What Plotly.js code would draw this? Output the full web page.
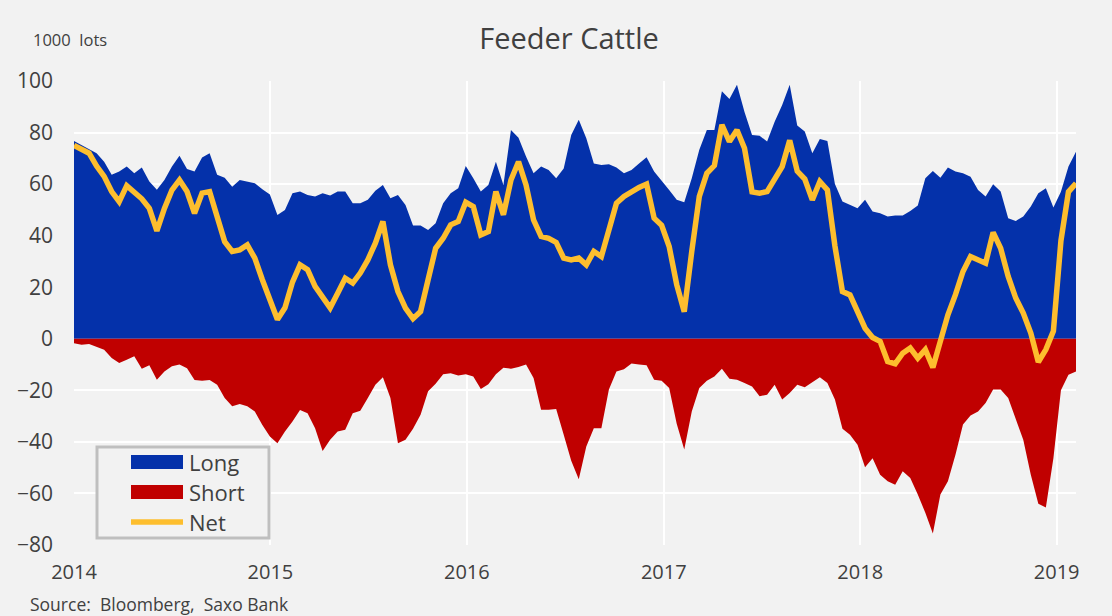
<!DOCTYPE html>
<html>
<head>
<meta charset="utf-8">
<script src="https://cdn.plot.ly/plotly-3.0.1.min.js"></script>
<style>
html,body{margin:0;padding:0;background:#f2f2f2;}
#chart{width:1112px;height:616px;}
</style>
</head>
<body>
<div id="chart"></div>
<script>
// Biweekly observations, first on 2014-01-01 (thousand lots)
var startDate = '2014-01-01';
var stepDays = 14;

var longPos = [76.7,75.2,73.6,72,68.7,63.6,64.9,66.8,64.2,66.4,61,57.8,61.6,66.8,71,65.9,64.9,70.3,72,63.6,62.5,59,61.6,61,60.3,58,
56,48,50,56.5,57.1,55.8,55.2,56.5,55.6,57.1,57.1,52.6,52.6,53.9,57.4,59.7,54.5,55.8,51.9,43.9,43.9,42.2,44.8,52.6,56.5,58.4,
67,62.3,57.1,59.7,68.7,59.7,81,78,70.7,64.2,66.8,65.5,62.3,66.1,79.1,85,77.8,68,67.4,67.7,66.4,64.2,65.5,68,70.4,64.9,
61.5,57.7,53.9,53,62.3,73.3,81,81,96,93,98.5,88,79.1,78.8,76.5,84.2,90.7,98.5,82.7,80.4,72,77.5,76.7,60,53.3,51.9,
50.6,53.9,49.4,48.7,47.4,47.8,47.8,49.6,51.7,62.3,65.1,62.5,66.4,64.9,64.2,62.9,57.7,55.2,59.9,57.1,46.8,45.7,47.4,51.3,56.5,58.4,50.9,57,66.8,72.6];

var shortPos = [-1.7,-2.3,-2,-3,-4.3,-7.5,-9.4,-8.1,-6.8,-11.6,-10.3,-15.9,-12.7,-10.7,-10,-11.4,-16,-16.3,-16,-17.8,-23,-26.2,-25.3,-26.2,-28.2,-33.4,
-37.9,-40.5,-36,-32.1,-27.6,-28.9,-34.7,-43.5,-39.2,-36,-35.3,-28.9,-27.9,-23,-17.8,-14.9,-23,-40.5,-39.2,-34.9,-29.5,-20.4,-17.4,-13.8,-13.4,-14.2,
-13.8,-14.6,-19.5,-17.6,-13.8,-11.2,-11.6,-10.9,-10,-15.2,-27.5,-27.5,-27.2,-37.2,-47.3,-54.5,-41.8,-34.7,-34.7,-19.7,-12.7,-11.8,-9.6,-10,-10.3,-15.9,
-16.3,-19.1,-33,-43,-28.2,-19.1,-16.3,-14.6,-11.6,-15.5,-15.9,-17.2,-18.5,-22.3,-21.7,-17.8,-23.6,-21,-17.8,-18.8,-16.8,-14.9,-17.2,-23.6,-34.9,-37.2,
-41.1,-49.8,-46.3,-52.7,-55.3,-56.6,-51.4,-54,-60.4,-67.5,-75.5,-60.4,-55.3,-45,-33.3,-29.8,-28.2,-24.9,-19.7,-19.7,-23,-30.7,-39.2,-52.7,-64,-65.5,-46.3,-20,-14,-12.7];

var netPos = [75,73.3,72,67,63,57.1,53.2,59.4,56.5,54.3,50.6,41.9,50.6,57.7,61.6,57.1,48.7,56.5,57.1,46.8,37.7,33.9,34.5,36.4,31.3,22.9,
15,7.5,12,22,28.7,26.8,20.3,16.2,12,17.7,23.5,21.6,25.5,30.6,37.1,45.5,28.7,18.3,11.9,7.8,10.6,22.9,35.1,39,44.2,45.5,
53,51.3,40.3,41.6,57.1,48.1,61.6,68.7,59.7,46.1,39.7,39,37.4,31.3,30.6,31.3,28.7,33.9,31.9,42.2,52.6,55.2,57.1,58.7,60,46.8,
44,35.8,21,10.5,33.9,55.2,64.2,67.2,83,76.5,81,73.9,57,56.5,57.1,62.3,66.8,77,65,62,53.9,61,57.7,36,18.3,17,
10,4.1,0.5,-1,-8.8,-9.7,-5.6,-3.6,-7.5,-4.2,-11.1,-1,9.3,17.1,26.1,31.9,30.6,29.3,41.3,35.1,24.2,15.8,10,2.2,-9,-4.2,3,38,57,60.3];

var yearTicks = ['2014-01-01','2015-01-01','2016-01-01','2017-01-01','2018-01-01','2019-01-01'];
var yearLabels = ['2014','2015','2016','2017','2018','2019'];
var seriesNames = ['Long','Short','Net'];

var dates = [];
(function(){
  var t0 = Date.parse(startDate + 'T00:00:00Z');
  for (var i = 0; i < longPos.length; i++) {
    dates.push(new Date(t0 + i*stepDays*86400000).toISOString().slice(0,10));
  }
})();

var BLUE = '#0431aa', RED = '#c00000', YEL = '#fdbe2e', TXT = '#404040', FONT = 'Open Sans, Noto Sans, sans-serif';

var traces = [
  {x: dates, y: longPos, type: 'scatter', mode: 'lines', fill: 'tozeroy', fillcolor: BLUE,
   line: {width: 0, color: BLUE}, name: seriesNames[0], showlegend: false},
  {x: dates, y: shortPos, type: 'scatter', mode: 'lines', fill: 'tozeroy', fillcolor: RED,
   line: {width: 0, color: RED}, name: seriesNames[1], showlegend: false},
  {x: dates, y: netPos, type: 'scatter', mode: 'lines',
   line: {width: 5.5, color: YEL}, name: seriesNames[2], showlegend: false}
];

// plot area in pixels: x 74..1076, y 81..545
var L = 74, R = 1076, T = 81, B = 545;
function px(x){ return (x - L) / (R - L); }
function py(y){ return (B - y) / (B - T); }

var shapes = [
  {type: 'rect', xref: 'paper', yref: 'paper', x0: px(97), x1: px(269), y0: py(538), y1: py(447),
   line: {color: '#bfbfbf', width: 3}, fillcolor: '#f2f2f2', layer: 'above'},
  {type: 'rect', xref: 'paper', yref: 'paper', x0: px(131), x1: px(183), y0: py(469), y1: py(455),
   line: {width: 0}, fillcolor: BLUE, layer: 'above'},
  {type: 'rect', xref: 'paper', yref: 'paper', x0: px(131), x1: px(183), y0: py(499), y1: py(485),
   line: {width: 0}, fillcolor: RED, layer: 'above'},
  {type: 'line', xref: 'paper', yref: 'paper', x0: px(131), x1: px(183), y0: py(522), y1: py(522),
   line: {color: YEL, width: 5.5}, layer: 'above'}
];

var annotations = [
  {text: '1000&nbsp; lots', xref: 'paper', yref: 'paper', x: px(31), y: py(40), xanchor: 'left', yanchor: 'middle',
   showarrow: false, font: {family: FONT, size: 16.5, color: TXT}},
  {text: 'Source:&nbsp; Bloomberg,&nbsp; Saxo Bank', xref: 'paper', yref: 'paper', x: px(28), y: py(604), xanchor: 'left', yanchor: 'middle',
   showarrow: false, font: {family: FONT, size: 17.5, color: TXT}},
  {text: seriesNames[0], xref: 'paper', yref: 'paper', x: px(187), y: py(462), xanchor: 'left', yanchor: 'middle',
   showarrow: false, font: {family: FONT, size: 22, color: TXT}},
  {text: seriesNames[1], xref: 'paper', yref: 'paper', x: px(187), y: py(492), xanchor: 'left', yanchor: 'middle',
   showarrow: false, font: {family: FONT, size: 22, color: TXT}},
  {text: seriesNames[2], xref: 'paper', yref: 'paper', x: px(187), y: py(522), xanchor: 'left', yanchor: 'middle',
   showarrow: false, font: {family: FONT, size: 22, color: TXT}}
];

var layout = {
  width: 1112, height: 616,
  margin: {l: L, r: 1112 - R, t: T, b: 616 - B, pad: 0},
  paper_bgcolor: '#f2f2f2', plot_bgcolor: '#f2f2f2',
  font: {family: FONT, color: TXT},
  title: {text: 'Feeder Cattle', x: 569/1112, xanchor: 'center', xref: 'container',
          y: 1 - 39/616, yanchor: 'middle', yref: 'container', font: {family: FONT, size: 29, color: TXT}},
  showlegend: false,
  xaxis: {type: 'date', range: ['2014-01-01', '2019-02-06'], tickvals: yearTicks, ticktext: yearLabels,
          showgrid: true, gridcolor: '#ffffff', gridwidth: 2, zeroline: false, showline: false,
          ticks: '', tickfont: {family: FONT, size: 20, color: TXT}, ticklabelstandoff: 13},
  yaxis: {range: [-80, 100], dtick: 20, tick0: 0, showgrid: true, gridcolor: '#ffffff', gridwidth: 2,
          zeroline: false, showline: false, ticks: '', tickfont: {family: FONT, size: 21, color: TXT},
          ticklabelstandoff: 20},
  shapes: shapes,
  annotations: annotations,
  hovermode: false
};

Plotly.newPlot('chart', traces, layout, {displayModeBar: false, staticPlot: true});
</script>
</body>
</html>
